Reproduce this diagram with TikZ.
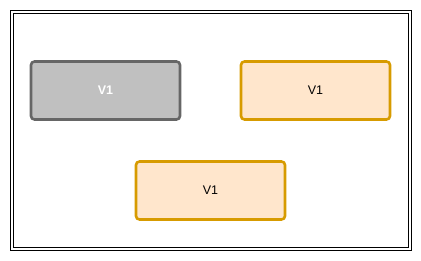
\documentclass[tikz,border=0pt]{standalone}
\usepackage{fontspec}
\setmainfont{Liberation Sans}
\definecolor{grayfill}{HTML}{C0C0C0}
\definecolor{graystroke}{HTML}{666666}
\definecolor{orfill}{HTML}{FFE6CC}
\definecolor{orstroke}{HTML}{D79B00}
\tikzset{
  vbox/.style={draw, line width=2.6pt, rounded corners=3.5pt, minimum width=149pt, minimum height=58pt, inner sep=0pt, font=\fontsize{12.5}{14}\selectfont},
  graybox/.style={vbox, fill=grayfill, draw=graystroke, text=white, font=\fontsize{12.5}{14}\selectfont\bfseries},
  orbox/.style={vbox, fill=orfill, draw=orstroke, text=black},
  frame/.style={draw=black, line width=1.1pt}
}
\begin{document}
\begin{tikzpicture}[x=1pt,y=-1pt]
\useasboundingbox (0,0) rectangle (421,261);
\coordinate (fo1) at (10.5,10.5);
\coordinate (fo2) at (411.5,250.5);
\coordinate (fi1) at (13.5,13.5);
\coordinate (fi2) at (408.5,247.5);
\draw[frame] (fo1) rectangle (fo2);
\draw[frame] (fi1) rectangle (fi2);
\node[graybox] (a) at (105.5,90.5) {V1};
\node[orbox] (b) at (315.5,90.5) {V1};
\node[orbox] (c) at (210.5,190.5) {V1};
\end{tikzpicture}
\end{document}
